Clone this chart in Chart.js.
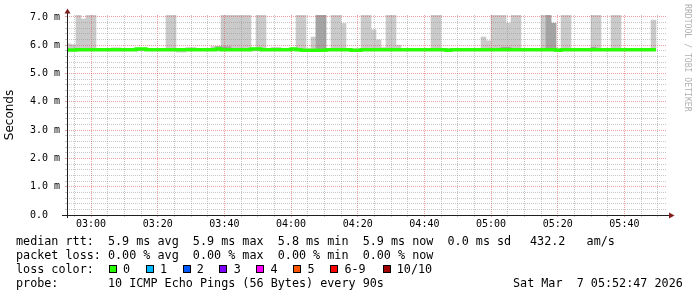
<!DOCTYPE html>
<html>
<head>
<meta charset="utf-8">
<title>SmokePing latency</title>
<script src="https://cdn.jsdelivr.net/npm/chart.js@4.4.1/dist/chart.umd.min.js"></script>
<style>
 html,body{margin:0;padding:0;background:#ffffff;}
 #wrap{position:relative;width:697px;height:297px;overflow:hidden;background:#ffffff;}
 #chart{position:absolute;left:0;top:0;}
 .lg{position:absolute;font-family:"DejaVu Sans Mono",monospace;font-size:11.76px;line-height:14px;white-space:pre;color:#000;}
 .bx{position:absolute;width:6px;height:6px;border:1px solid #000;}
 #wm{position:absolute;left:683px;top:4px;font-family:"DejaVu Sans Mono",monospace;font-size:8.15px;line-height:10px;color:#b0b0b0;writing-mode:vertical-rl;white-space:pre;}
</style>
</head>
<body>
<div id="wrap">
<canvas id="chart" width="697" height="297"></canvas>
<div id="wm">RRDTOOL / TOBI OETIKER</div>
<div class="lg" style="left:16px;top:233.8px">median rtt:  5.9 ms avg  5.9 ms max  5.8 ms min  5.9 ms now  0.0 ms sd</div>
<div class="lg" style="left:530px;top:233.8px">432.2   am/s</div>
<div class="lg" style="left:16px;top:247.8px">packet loss: 0.00 % avg  0.00 % max  0.00 % min  0.00 % now</div>
<div class="lg" style="left:16px;top:261.8px">loss color:</div>
<div id="losslegend"></div>
<div class="lg" style="left:16px;top:275.8px">probe:       10 ICMP Echo Pings (56 Bytes) every 90s</div>
<div class="lg" style="left:513px;top:275.8px">Sat Mar  7 05:52:47 2026</div>
</div>
<script>
// ---- time axis (minutes since midnight) ----
const sampleStartMinute = 172.4833;   // 02:52:29, first 90 s sample
const sampleStepMinutes = 1.5;        // 90 s step
const viewStartMinute = 172.7833;     // 02:52:47
const viewEndMinute = 352.7833;       // 05:52:47

// ---- series values (ms) ----
const medianRtt = [
 5.83,5.83,5.84,5.84,5.84,5.84,5.84,5.84,5.84,5.84,
 5.84,5.84,5.84,5.84,5.87,5.87,5.84,5.84,5.84,5.84,
 5.84,5.84,5.84,5.84,5.84,5.84,5.84,5.84,5.84,5.84,
 5.87,5.84,5.84,5.84,5.84,5.84,5.84,5.87,5.87,5.84,
 5.84,5.84,5.84,5.84,5.84,5.87,5.84,5.82,5.82,5.82,
 5.82,5.82,5.84,5.84,5.84,5.84,5.84,5.82,5.82,5.84,
 5.84,5.84,5.84,5.84,5.84,5.84,5.84,5.84,5.84,5.84,
 5.84,5.84,5.84,5.84,5.84,5.84,5.82,5.84,5.84,5.84,
 5.84,5.84,5.84,5.84,5.84,5.84,5.84,5.84,5.84,5.84,
 5.84,5.84,5.84,5.84,5.84,5.84,5.84,5.84,5.82,5.84,
 5.84,5.84,5.84,5.84,5.84,5.84,5.84,5.84,5.84,5.84,
 5.84,5.84,5.84,5.84,5.84,5.84,5.84,5.84
];
const smokeLow = [
 5.80,5.80,5.80,5.80,5.80,5.80,5.80,5.80,5.80,5.80,
 5.80,5.80,5.80,5.80,5.80,5.80,5.80,5.80,5.80,5.80,
 5.80,5.80,5.76,5.76,5.80,5.80,5.80,5.80,5.80,5.80,
 5.80,5.80,5.80,5.80,5.80,5.80,5.80,5.80,5.80,5.80,
 5.80,5.80,5.80,5.80,5.80,5.80,5.80,5.80,5.80,5.80,
 5.80,5.80,5.80,5.80,5.80,5.80,5.80,5.80,5.80,5.80,
 5.80,5.80,5.80,5.80,5.80,5.80,5.80,5.80,5.80,5.80,
 5.80,5.80,5.80,5.80,5.80,5.80,5.80,5.80,5.80,5.80,
 5.80,5.80,5.80,5.80,5.80,5.80,5.80,5.80,5.80,5.80,
 5.80,5.80,5.80,5.80,5.80,5.80,5.80,5.80,5.80,5.80,
 5.80,5.80,5.80,5.80,5.80,5.80,5.80,5.80,5.80,5.80,
 5.80,5.80,5.80,5.80,5.80,5.80,5.80,5.80
];
const smokeHigh = [
 6.05,6.02,7.10,6.93,7.10,7.10,5.88,5.88,5.88,5.91,
 5.91,5.88,5.88,5.88,5.90,5.90,5.88,5.88,5.88,5.88,
 7.10,7.10,5.88,5.88,5.92,5.92,5.88,5.88,5.88,5.96,
 5.96,7.10,7.10,7.10,7.10,7.10,7.10,5.90,7.10,7.10,
 5.88,5.92,5.92,5.88,5.88,5.88,7.10,7.10,5.88,6.29,
 7.10,7.10,5.88,7.10,7.10,6.77,5.88,5.88,5.88,7.10,
 7.10,6.55,6.19,5.92,7.10,7.10,6.00,5.88,5.88,5.88,
 5.88,5.88,5.88,7.10,7.10,5.88,5.88,5.88,5.88,5.88,
 5.88,5.88,5.88,6.29,6.16,7.10,7.10,7.10,6.78,7.10,
 7.10,5.88,5.88,5.88,5.88,7.10,7.10,6.78,5.88,7.10,
 7.10,5.88,5.88,5.88,5.88,7.10,7.10,5.88,5.88,7.10,
 7.10,5.88,5.88,5.88,5.88,5.88,5.88,6.89
];
// denser smoke layer: [sample index, low, high]
const darkSmoke = [
 [30,5.82,5.95],[31,5.82,5.95],[32,5.82,5.95],
 [50,5.82,7.10],[51,5.82,7.10],
 [87,5.82,5.93],[88,5.82,5.93],
 [96,5.82,7.10],[97,5.82,6.78],
 [105,5.82,5.93]
];

// ---- tick labels ----
const xTickMinutes = [180,200,220,240,260,280,300,320,340];
const xTickLabels = ['03:00','03:20','03:40','04:00','04:20','04:40','05:00','05:20','05:40'];
const yTickValues = [0,1,2,3,4,5,6,7];
const yTickLabels = ['0.0  ','1.0 m','2.0 m','3.0 m','4.0 m','5.0 m','6.0 m','7.0 m'];

// ---- loss legend ----
const lossLabels = ['0','1','2','3','4','5','6-9','10/10'];
const lossColors = ['#26ff00','#00b8ff','#0059ff','#7e00ff','#ff00ff','#ff5500','#ff0000','#a10000'];
const lossBoxLeft = [108.7,145.6,182.5,219.4,256.3,293.2,330.1,382.5];

const ll = document.getElementById('losslegend');
lossLabels.forEach((lab, i) => {
  const b = document.createElement('div');
  b.className = 'bx';
  b.style.left = lossBoxLeft[i] + 'px';
  b.style.top = '265px';
  b.style.background = lossColors[i];
  ll.appendChild(b);
  const t = document.createElement('div');
  t.className = 'lg';
  t.style.left = (lossBoxLeft[i] + 14.3) + 'px';
  t.style.top = '261.8px';
  t.textContent = lab;
  ll.appendChild(t);
});

// ---- build datasets ----
const sampleTimes = medianRtt.map((_, i) => sampleStartMinute + i * sampleStepMinutes);
const lightData = sampleTimes.map((t, i) => ({x: t + sampleStepMinutes / 2, y: [smokeLow[i], smokeHigh[i]]}));
const darkData = darkSmoke.map(([i, lo, hi]) => ({x: sampleTimes[i] + sampleStepMinutes / 2, y: [lo, hi]}));
const lineData = sampleTimes.map((t, i) => ({x: t, y: medianRtt[i]}));
lineData.push({x: sampleTimes[sampleTimes.length - 1] + sampleStepMinutes, y: medianRtt[medianRtt.length - 1]});

const MINOR = 'rgba(143,143,143,0.5)';
const MAJOR = 'rgba(222,79,79,0.55)';
const isInt = v => Math.abs(v - Math.round(v)) < 1e-6;

const rrdAxes = {
  id: 'rrdAxes',
  afterDraw(chart) {
    const ctx = chart.ctx, a = chart.chartArea;
    // median line above grid
    ctx.save();
    ctx.beginPath();
    ctx.rect(a.left, a.top - 3, a.right - a.left, a.bottom - a.top + 6);
    ctx.clip();
    chart.getDatasetMeta(0).controller.draw();
    ctx.restore();
    // axes
    ctx.save();
    ctx.strokeStyle = 'rgb(31,31,31)';
    ctx.lineWidth = 1;
    ctx.beginPath();
    ctx.moveTo(a.left - 5, a.bottom + 0.5);
    ctx.lineTo(a.right + 3, a.bottom + 0.5);
    ctx.moveTo(a.left + 0.5, a.bottom + 3);
    ctx.lineTo(a.left + 0.5, a.top - 3);
    ctx.stroke();
    ctx.fillStyle = 'rgb(128,31,31)';
    ctx.beginPath();
    ctx.moveTo(a.right + 7.5, a.bottom + 0.5);
    ctx.lineTo(a.right + 2, a.bottom - 2.5);
    ctx.lineTo(a.right + 2, a.bottom + 3.5);
    ctx.closePath();
    ctx.fill();
    ctx.beginPath();
    ctx.moveTo(a.left + 0.5, a.top - 6.5);
    ctx.lineTo(a.left - 2.5, a.top - 1.5);
    ctx.lineTo(a.left + 3.5, a.top - 1.5);
    ctx.closePath();
    ctx.fill();
    ctx.restore();
  }
};

new Chart(document.getElementById('chart'), {
  type: 'bar',
  data: {
    datasets: [
      {type: 'line', data: lineData, borderColor: '#26ff00', borderWidth: 3, stepped: true,
       pointRadius: 0, fill: false, tension: 0, order: 0, borderCapStyle: 'butt'},
      {type: 'bar', data: darkData, backgroundColor: '#a4a4a4', borderWidth: 0,
       barPercentage: 1, categoryPercentage: 1, grouped: false, order: 1},
      {type: 'bar', data: lightData, backgroundColor: '#cacaca', borderWidth: 0,
       barPercentage: 1, categoryPercentage: 1, grouped: false, order: 2}
    ]
  },
  options: {
    responsive: false,
    animation: false,
    devicePixelRatio: 1,
    layout: {padding: {left: 0, top: 15, right: 30, bottom: 0}},
    plugins: {legend: {display: false}, tooltip: {enabled: false}},
    scales: {
      x: {
        type: 'linear', min: viewStartMinute, max: viewEndMinute, offset: false,
        afterBuildTicks: s => {
          const t = [];
          for (let m = 175; m <= 350; m += 5) t.push({value: m});
          s.ticks = t;
        },
        afterFit: s => { s.height = 82; },
        ticks: {
          autoSkip: false, maxRotation: 0, minRotation: 0, padding: 1, color: '#000',
          font: {family: 'DejaVu Sans Mono', size: 10},
          callback: v => { const k = xTickMinutes.indexOf(Math.round(v)); return k >= 0 ? xTickLabels[k] : ''; }
        },
        grid: {
          z: 1, offset: false, lineWidth: 1, tickLength: 2, drawTicks: true,
          color: c => (c.tick && xTickMinutes.includes(Math.round(c.tick.value))) ? MAJOR : MINOR,
          tickColor: c => (c.tick && xTickMinutes.includes(Math.round(c.tick.value))) ? MAJOR : MINOR
        },
        border: {display: false, dash: [1, 1]}
      },
      y: {
        type: 'linear', min: 0, max: 7.07,
        afterBuildTicks: s => {
          const t = [];
          for (let k = 0; k <= 35; k++) t.push({value: k / 5});
          s.ticks = t;
        },
        afterFit: s => { s.width = 67; },
        ticks: {
          autoSkip: false, padding: 5, color: '#000',
          font: {family: 'DejaVu Sans Mono', size: 10},
          callback: v => { if (!isInt(v)) return ''; const k = yTickValues.indexOf(Math.round(v)); return k >= 0 ? yTickLabels[k] : ''; }
        },
        title: {display: true, text: 'Seconds', color: '#000', padding: {top: 3, bottom: 0},
                font: {family: 'DejaVu Sans', size: 12}},
        grid: {
          z: 1, lineWidth: 1, tickLength: 2, drawTicks: true,
          color: c => (c.tick && isInt(c.tick.value) && c.tick.value > 0) ? MAJOR : MINOR,
          tickColor: c => (c.tick && isInt(c.tick.value) && c.tick.value > 0) ? MAJOR : MINOR
        },
        border: {display: false, dash: [1, 1]}
      }
    }
  },
  plugins: [rrdAxes]
});
</script>
</body>
</html>
